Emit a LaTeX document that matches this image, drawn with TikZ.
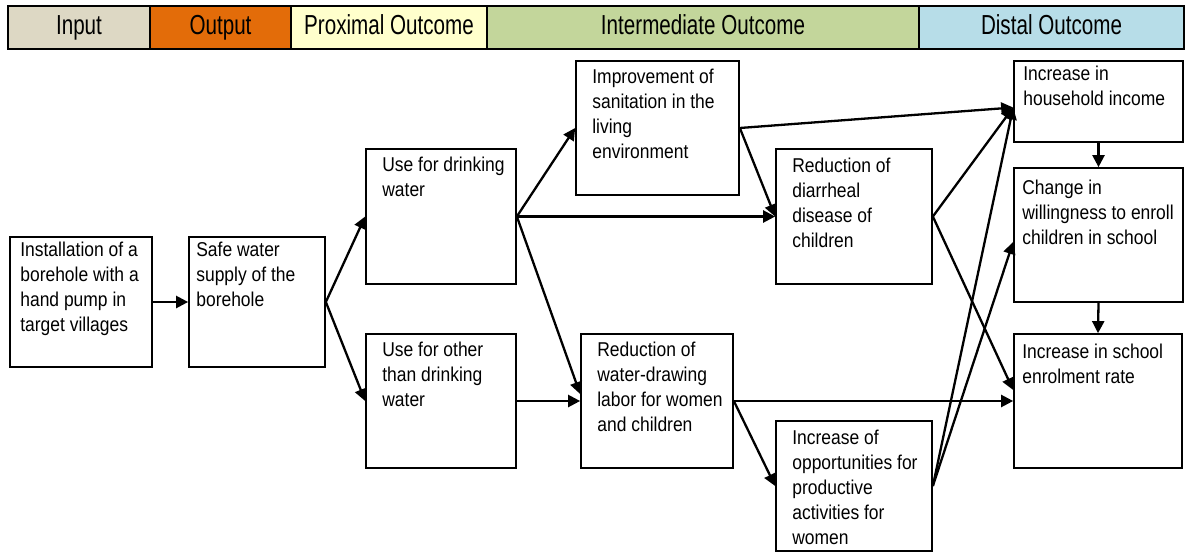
\documentclass[tikz,border=0pt]{standalone}
\usepackage{fontspec}
\setmainfont[FakeStretch=0.873]{Liberation Sans}
\newfontfamily\hdrfont[FakeStretch=0.75]{Liberation Sans}
\usetikzlibrary{arrows.meta}
\definecolor{cinput}{HTML}{DDD8C4}
\definecolor{coutput}{HTML}{E36C09}
\definecolor{cprox}{HTML}{FFFFCC}
\definecolor{cinter}{HTML}{C3D69B}
\definecolor{cdistal}{HTML}{B7DDE8}
\tikzset{
  hdrcell/.style={draw=black, line width=2pt},
  hdrtext/.style={anchor=base, inner sep=0pt, font=\hdrfont\fontsize{27.5}{30}\selectfont},
  box/.style={draw=black, line width=1.7pt, rectangle, inner sep=0pt},
  txt/.style={anchor=north west, inner sep=0pt, align=left, font=\fontsize{20}{25}\selectfont},
  arr/.style={line width=2.3pt, -{Triangle[length=12pt,width=12pt]}},
}
\begin{document}
\begin{tikzpicture}[x=1pt,y=-1pt]
\useasboundingbox (0,0) rectangle (1185,556);
\fill[white] (0,0) rectangle (1185,556);
% header
\draw[hdrcell, fill=cinput] (8,6) rectangle (150,49);
\draw[hdrcell, fill=coutput] (150,6) rectangle (291,49);
\draw[hdrcell, fill=cprox] (291,6) rectangle (487,49);
\draw[hdrcell, fill=cinter] (487,6) rectangle (919,49);
\draw[hdrcell, fill=cdistal] (919,6) rectangle (1184,49);
\node[hdrtext] (h1) at (79,35) {Input};
\node[hdrtext] (h2) at (220.5,35) {Output};
\node[hdrtext] (h3) at (389,35) {Proximal Outcome};
\node[hdrtext] (h4) at (703,35) {Intermediate Outcome};
\node[hdrtext] (h5) at (1051.5,35) {Distal Outcome};
% boxes
\node[box, minimum width=142pt, minimum height=130pt] (inst) at (81,302) {};
\node[box, minimum width=136pt, minimum height=130pt] (safe) at (257,302) {};
\node[box, minimum width=150pt, minimum height=135pt] (drink) at (441,216.5) {};
\node[box, minimum width=150pt, minimum height=134pt] (other) at (441,401) {};
\node[box, minimum width=163pt, minimum height=134pt] (impr) at (657.5,128) {};
\node[box, minimum width=152pt, minimum height=134pt] (water) at (657,401) {};
\node[box, minimum width=156pt, minimum height=135pt] (diarr) at (854,216.5) {};
\node[box, minimum width=156pt, minimum height=130pt] (opp) at (854,486) {};
\node[box, minimum width=169pt, minimum height=81pt] (house) at (1098.5,101.5) {};
\node[box, minimum width=169pt, minimum height=134pt] (will) at (1098.5,235) {};
\node[box, minimum width=168pt, minimum height=134pt] (school) at (1098,401) {};
% texts
\node[txt] (tinst) at ([shift={(11,6)}]inst.north west) {Installation of a\\borehole with a\\hand pump in\\target villages};
\node[txt] (tsafe) at ([shift={(8,6)}]safe.north west) {Safe water\\supply of the\\borehole};
\node[txt] (tdrink) at ([shift={(17,9)}]drink.north west) {Use for drinking\\water};
\node[txt] (tother) at ([shift={(17,9)}]other.north west) {Use for other\\than drinking\\water};
\node[txt] (timpr) at ([shift={(17,9)}]impr.north west) {Improvement of\\sanitation in the\\living\\environment};
\node[txt] (twater) at ([shift={(17,9)}]water.north west) {Reduction of\\water-drawing\\labor for women\\and children};
\node[txt] (tdiarr) at ([shift={(17,10)}]diarr.north west) {Reduction of\\diarrheal\\disease of\\children};
\node[txt] (topp) at ([shift={(17,10)}]opp.north west) {Increase of\\opportunities for\\productive\\activities for\\women};
\node[txt] (thouse) at ([shift={(10,6)}]house.north west) {Increase in\\household income};
\node[txt] (twill) at ([shift={(9,13)}]will.north west) {Change in\\willingness to enroll\\children in school};
\node[txt] (tschool) at ([shift={(9,11)}]school.north west) {Increase in school\\enrolment rate};
% entry points
\coordinate (hin) at ([yshift=-6pt]house.west);
\coordinate (win) at ([yshift=-7pt]will.west);
\coordinate (sin) at ([yshift=11pt]school.west);
\coordinate (wdin) at ([yshift=7pt]water.west);
% arrows
\draw[arr] (inst.east) -- (safe.west);
\draw[arr] (safe.east) -- (drink.west);
\draw[arr] (safe.east) -- (other.west);
\draw[arr] (drink.east) -- (impr.west);
\draw[arr] (drink.east) -- (diarr.west);
\draw[arr] (drink.east) -- (wdin);
\draw[arr] (other.east) -- (water.west);
\draw[arr] (impr.east) -- (hin);
\draw[arr] (impr.east) -- (diarr.west);
\draw[arr] (diarr.east) -- (hin);
\draw[arr] (diarr.east) -- (sin);
\draw[arr] (water.east) -- (school.west);
\draw[arr] (water.east) -- (opp.west);
\draw[arr] (opp.east) -- (hin);
\draw[arr] (opp.east) -- (win);
\draw[arr] (house.south) -- (will.north);
\draw[arr] (will.south) -- (school.north);
\end{tikzpicture}
\end{document}
